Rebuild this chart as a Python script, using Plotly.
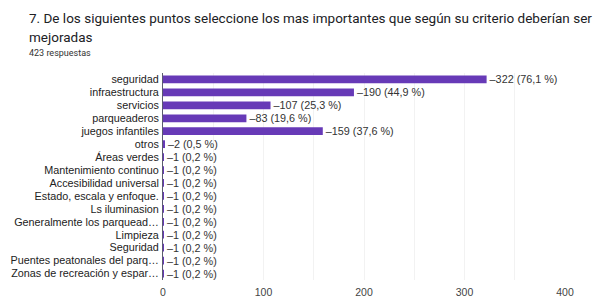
import plotly.graph_objects as go

categories = ["seguridad", "infraestructura", "servicios", "parqueaderos", "juegos infantiles",
              "otros", "Áreas verdes", "Mantenimiento continuo", "Accesibilidad universal",
              "Estado, escala y enfoque.", "Ls iluminasion", "Generalmente los parquead…",
              "Limpieza", "Seguridad", "Puentes peatonales del parq…", "Zonas de recreación y espar…"]
values = [322, 190, 107, 83, 159, 2, 1, 1, 1, 1, 1, 1, 1, 1, 1, 1]
percent_labels = ["76,1", "44,9", "25,3", "19,6", "37,6", "0,5", "0,2", "0,2", "0,2", "0,2",
                  "0,2", "0,2", "0,2", "0,2", "0,2", "0,2"]
x_ticks = [0, 100, 200, 300, 400]

texts = [f"–{v} ({p} %)" for v, p in zip(values, percent_labels)]

W, H = 593, 297
ML, MR, MT, MB = 163, 28, 73, 17
PH = H - MT - MB

lab_font = "Liberation Sans, Arial, sans-serif"

fig = go.Figure(go.Bar(
    x=values, y=categories, orientation="h",
    marker=dict(color="#673ab7", line=dict(width=0)),
    width=0.6,
    text=texts, textposition="outside", cliponaxis=False, constraintext="none",
    textfont=dict(family=lab_font, size=10.8, color="#333333"),
))

fig.update_layout(
    width=W, height=H,
    margin=dict(l=ML, r=MR, t=MT, b=MB, autoexpand=False),
    paper_bgcolor="white", plot_bgcolor="white",
    showlegend=False,
    font=dict(family=lab_font, size=10.8, color="#222222"),
)
fig.update_yaxes(autorange="reversed", ticks="", ticklabelstandoff=1, automargin=False,
                 tickmode="array", tickvals=categories, ticktext=categories,
                 showline=True, linecolor="#5a5a70", linewidth=1,
                 tickfont=dict(size=10.8, color="#222222"))
fig.update_xaxes(range=[0, 400], tickvals=x_ticks, automargin=False,
                 showgrid=True, gridcolor="#f2f2f2", gridwidth=1,
                 zeroline=False, ticklabelstandoff=4,
                 tickfont=dict(size=10.5, color="#444444"),
                 minor=dict(dtick=50, showgrid=True, gridcolor="#f2f2f2"))

def ytop(px):
    return 1 + (MT - px) / PH

def xleft(px):
    return (px - ML) / (W - ML - MR)

title_font = "Roboto, Arial, sans-serif"
TX = 27
fig.add_annotation(text="7. De los siguientes puntos seleccione los mas importantes que según su criterio deberían ser",
                   x=xleft(TX), y=ytop(8), xref="paper", yref="paper", xanchor="left", yanchor="top",
                   showarrow=False, font=dict(family=title_font, size=13.5, color="#202124"))
fig.add_annotation(text="mejoradas",
                   x=xleft(TX), y=ytop(27), xref="paper", yref="paper", xanchor="left", yanchor="top",
                   showarrow=False, font=dict(family=title_font, size=13.5, color="#202124"))
fig.add_annotation(text="423 respuestas",
                   x=xleft(TX), y=ytop(46), xref="paper", yref="paper", xanchor="left", yanchor="top",
                   showarrow=False, font=dict(family=title_font, size=9, color="#333333"))

fig.write_html("out.html", config={"displayModeBar": False},
               post_script="document.body.style.margin='0';document.body.style.overflow='hidden';")
